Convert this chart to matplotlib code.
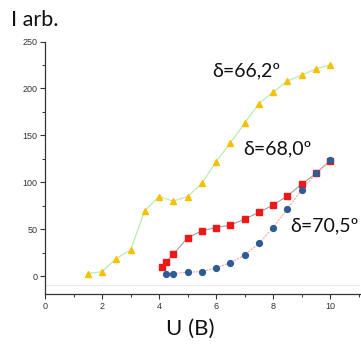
import matplotlib
matplotlib.use("Agg")
import matplotlib.pyplot as plt
from matplotlib.ticker import MultipleLocator

# Intensity vs voltage for three angles
u_662 = [1.5, 2.0, 2.5, 3.0, 3.5, 4.0, 4.5, 5.0, 5.5, 6.0, 6.5, 7.0, 7.5, 8.0, 8.5, 9.0, 9.5, 10.0]
i_662 = [3, 5, 19, 28, 70, 85, 80, 85, 99, 122, 142, 163, 184, 196, 208, 214, 221, 225]

u_680 = [4.1, 4.25, 4.5, 5.0, 5.5, 6.0, 6.5, 7.0, 7.5, 8.0, 8.5, 9.0, 9.5, 10.0]
i_680 = [10, 15.5, 23.5, 41, 48.5, 52, 54.5, 61, 68, 76, 85.5, 98, 109.5, 123]

u_705 = [4.25, 4.5, 5.0, 5.5, 6.0, 6.5, 7.0, 7.5, 8.0, 8.5, 9.0, 9.5, 10.0]
i_705 = [2, 3, 4.5, 5, 9, 14.5, 22.5, 35, 52, 72, 91.5, 109.5, 124]

labels = ["δ=66,2º", "δ=68,0º", "δ=70,5º"]
x_ticks = [0, 2, 4, 6, 8, 10]
y_ticks = [0, 50, 100, 150, 200, 250]

fig = plt.figure(figsize=(3.61, 3.44), dpi=100)
ax = fig.add_axes([0.1247, 0.1453, 0.8726, 0.734])

ax.plot(u_662, i_662, color="#b8ecb0", lw=0.9, zorder=2)
ax.plot(u_662, i_662, ls="none", marker="^", ms=4.6, color="#f7c100", mec="#f7c100", zorder=3)

ax.plot(u_680, i_680, color="#a0a0a0", lw=0.8, zorder=2)
ax.plot(u_680, i_680, ls="none", marker="s", ms=4.0, color="#ee1818", mec="#ee1818", zorder=3)

ax.plot(u_705, i_705, color="#f4a8a0", lw=0.8, ls=(0, (2, 1)), zorder=2)
ax.plot(u_705, i_705, ls="none", marker="o", ms=4.2, color="#2f5c94", mec="#2f5c94", zorder=4)

# faint baseline below the data
ax.axhline(-9, color="#ececec", lw=0.8, zorder=1)

ax.set_xlim(0, 11.05)
ax.set_ylim(-18.8, 250)
ax.set_xticks(x_ticks)
ax.set_yticks(y_ticks)
ax.xaxis.set_minor_locator(MultipleLocator(1))
ax.yaxis.set_minor_locator(MultipleLocator(25))

for s in ("top", "right"):
    ax.spines[s].set_visible(False)
for s in ("left", "bottom"):
    ax.spines[s].set_linewidth(0.9)
    ax.spines[s].set_color("#333333")

ax.tick_params(which="major", direction="out", length=3.5, width=0.8, color="#333333",
               labelsize=6.5, labelcolor="#333333", pad=2)
ax.tick_params(which="minor", direction="out", length=2, width=0.7, color="#333333")
for t in ax.get_xticklabels() + ax.get_yticklabels():
    t.set_fontfamily("Liberation Sans")

txt = dict(fontfamily="Lato", fontsize=14, color="#111111", ha="center", va="center")
fig.text(246 / 361, 1 - 71 / 344, labels[0], **txt)
fig.text(277 / 361, 1 - 149 / 344, labels[1], **txt)
fig.text(324 / 361, 1 - 226 / 344, labels[2], **txt)

fig.text(35 / 361, 1 - 20 / 344, "I arb.", fontfamily="Lato", fontsize=15.5,
         color="#111111", ha="center", va="center")
fig.text(190 / 361, 1 - 329 / 344, "U (B)", fontfamily="Lato", fontsize=16,
         color="#111111", ha="center", va="center")

fig.savefig("out.png", dpi=100)
